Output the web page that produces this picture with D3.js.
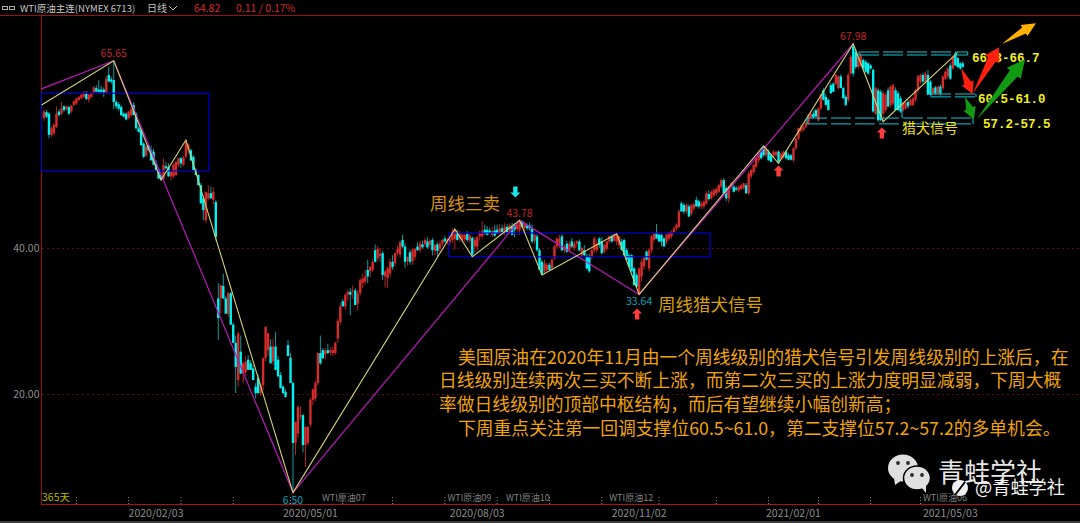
<!DOCTYPE html>
<html>
<head>
<meta charset="utf-8">
<script src="https://cdn.jsdelivr.net/npm/d3@7"></script>
<style>
  html, body { margin: 0; padding: 0; background: #000; overflow: hidden; }
  text { font-family: "Noto Sans CJK SC", "Noto Sans", sans-serif; }
  .mono { font-family: "Liberation Mono", "Noto Sans CJK SC", monospace; }
</style>
</head>
<body>
<svg id="chart" width="1080" height="523"></svg>
<script>
"use strict";

// daily candles
const opens = [
  57.8,58.6,58.4,55.5,55.7,56.6,58.7,58.4,59.4,59.0, 59.3,58.7,59.6,59.8,60.3,60.5,60.7,61.2,60.3,60.7,
  61.3,61.9,61.7,61.7,61.7,61.3,63.7,63.1,63.0,60.0, 59.7,59.3,58.4,58.4,57.8,58.2,59.6,58.4,56.4,56.2,
  54.3,52.7,54.1,53.4,53.2,51.6,50.7,50.0,49.5,51.2, 51.1,49.8,49.8,50.0,51.4,52.3,51.4,52.5,53.4,53.4,
  52.5,50.7,50.0,48.6,46.8,43.8,46.8,47.5,46.6,46.3, 33.1,33.1,34.8,33.1,31.0,33.8,29.5,27.0,21.9,25.8,
  22.8,23.0,24.7,24.2,23.5,21.0,22.2,20.1,21.2,24.9, 26.0,26.5,24.5,26.5,24.7,22.6,21.0,20.3,26.7,25.0,
  21.5,13.3,14.6,16.9,17.1,13.0,13.3,15.8,19.2,19.4, 21.5,25.6,26.0,25.4,26.0,25.7,25.6,25.6,27.6,29.9,
  32.7,32.0,33.6,34.0,34.1,34.2,32.4,33.8,35.2,35.4, 37.0,36.8,37.0,39.7,38.6,38.9,39.3,36.1,35.9,36.5,
  38.1,37.9,39.3,39.1,41.1,40.2,38.2,39.4,38.2,38.8, 40.2,39.7,40.5,40.5,40.9,40.4,41.1,39.6,40.5,39.9,
  40.6,41.3,40.9,40.8,41.1,41.2,42.0,41.3,41.1,41.2, 41.9,41.0,41.4,40.2,40.2,41.6,41.6,42.5,42.5,42.4,
  41.8,42.4,42.5,42.0,42.7,42.2,42.9,42.5,42.9,43.1, 42.6,42.4,43.7,42.7,43.1,43.1,42.7,41.0,41.6,39.7,
  38.1,36.8,37.0,37.7,37.2,38.6,40.2,40.6,41.6,39.7, 40.6,39.7,40.9,40.0,40.6,40.9,39.0,39.7,38.8,38.8,
  38.8,39.7,39.7,41.3,40.9,39.5,39.9,40.9,41.6,41.0, 40.9,40.4,40.9,41.1,39.7,39.0,39.0,37.2,36.3,33.7,
  36.1,37.5,39.5,37.2,39.7,41.1,42.0,41.8,41.8,41.3, 40.9,41.3,41.6,42.2,42.7,42.9,46.1,45.9,45.0,45.7,
  44.7,45.4,46.6,46.4,45.7,45.7,46.1,47.4,46.8,47.2, 47.5,47.7,48.4,49.3,48.2,46.8,48.4,48.4,48.2,47.9,
  48.1,48.2,48.6,47.5,49.8,50.4,51.1,52.0,53.2,53.9, 52.7,53.2,52.7,52.7,52.7,53.2,52.3,52.5,53.2,52.7,
  52.7,52.0,53.65,55.0,56.0,56.2,56.6,57.1,57.9,58.4, 58.9,57.5,59.1,61.6,60.7,60.3,62.3,62.5,62.5,61.9,
  63.5,61.9,60.7,60.3,63.9,67.6,66.9,64.8,65.0,65.75, 65.5,65.3,65.0,64.4,58.4,61.6,61.4,58.4,58.9,61.6,
  59.6,59.8,61.6,61.2,60.5,58.9,59.1,60.0,59.6,59.6, 60.3,61.6,62.8,63.7,62.8,63.7,62.8,61.2,62.0,61.2,
  62.1,61.9,63.2,63.5,65.0,64.6,66.66,66.0,65.3,65.3
];
const highs = [
  58.9,58.9,58.6,56.6,57.0,59.4,59.0,60.0,59.6,59.5, 59.5,59.6,60.2,60.5,60.8,61.1,61.5,61.5,61.1,61.3,
  62.2,62.3,63.0,62.2,62.0,63.6,64.8,63.5,65.65,60.3, 60.0,59.6,58.6,58.6,58.8,59.3,60.0,58.6,56.7,56.4,
  54.5,54.1,54.2,54.0,53.6,52.0,51.0,50.1,52.3,51.8, 51.6,50.6,51.6,51.9,52.3,52.5,52.6,54.8,54.3,53.6,
  52.7,51.0,50.1,48.9,47.2,47.7,48.6,48.4,48.3,46.6, 35.2,35.0,36.5,33.4,34.0,34.0,29.8,28.0,28.5,28.0,
  24.5,25.2,25.3,24.6,24.0,21.5,22.7,21.5,25.0,29.3, 28.4,27.5,27.5,28.5,25.2,23.0,21.2,20.7,27.4,25.6,
  21.7,16.2,18.5,18.3,17.3,15.5,15.6,19.5,20.8,21.8, 25.8,28.0,26.3,26.3,26.9,26.4,26.5,27.2,30.3,32.5,
  33.0,33.8,34.3,34.5,34.9,34.5,34.3,35.9,36.5,37.0, 38.4,37.6,38.5,40.5,40.3,40.0,39.6,37.0,37.4,38.5,
  39.0,39.4,40.3,41.0,41.8,40.6,38.8,39.8,40.0,40.0, 40.8,41.0,41.0,41.4,41.5,41.2,41.4,40.6,40.8,41.0,
  41.3,41.7,41.4,41.6,42.7,42.6,42.5,42.4,42.0,41.9, 42.3,41.9,41.6,41.5,41.6,42.4,43.7,43.2,43.0,42.8,
  42.9,43.1,43.2,43.3,43.2,43.4,43.3,43.4,43.5,43.4, 43.5,43.78,43.78,43.6,43.4,43.5,43.2,42.0,41.9,40.0,
  38.4,38.4,38.0,38.0,38.6,40.4,41.5,41.8,41.9,40.4, 41.0,41.0,41.4,40.9,41.1,41.2,40.2,40.4,39.2,39.2,
  39.9,41.6,41.0,41.5,41.5,40.6,41.0,41.7,41.8,41.9, 41.95,41.7,41.3,41.3,40.0,39.3,39.2,37.4,36.6,37.3,
  38.5,38.9,39.7,40.0,41.8,42.1,43.3,42.0,41.9,41.5, 42.0,42.2,42.4,43.0,43.4,45.3,46.4,46.2,46.1,46.0,
  46.0,46.2,47.0,46.6,46.4,46.5,47.8,47.9,47.9,48.2, 48.3,48.8,49.5,49.6,48.5,48.6,49.0,48.8,48.5,48.6,
  48.8,49.0,48.9,50.5,50.9,51.5,52.4,53.2,53.6,54.0, 54.0,53.5,53.0,53.4,53.3,53.4,53.1,53.3,53.4,53.0,
  52.9,53.8,55.1,56.5,56.9,56.8,57.3,58.3,58.6,58.8, 59.1,59.3,61.1,61.9,61.1,60.5,62.6,62.7,63.9,63.7,
  63.8,62.1,61.0,64.0,66.4,67.98,67.2,66.4,66.7,66.0, 65.8,65.5,65.2,64.6,62.1,61.9,61.7,61.6,61.3,62.0,
  62.3,62.5,62.0,61.5,60.8,60.0,60.0,60.3,60.5,60.7, 61.8,63.7,63.9,64.0,64.2,64.4,63.0,62.1,62.2,62.3,
  62.4,63.7,64.3,64.8,65.3,66.4,66.8,66.2,65.5,65.6
];
const lows = [
  57.4,57.8,55.0,55.2,55.4,56.4,58.0,58.2,58.6,58.8, 58.2,58.5,59.4,59.6,60.1,60.4,60.5,60.3,59.9,60.5,
  61.1,61.4,61.3,61.3,60.7,61.1,62.7,62.5,59.0,59.0, 58.8,58.1,57.9,57.5,57.6,58.0,58.2,56.2,55.8,54.0,
  52.3,52.4,53.3,52.0,51.4,50.6,49.5,49.3,49.3,50.9, 49.8,49.3,49.6,49.8,51.1,51.0,51.2,52.3,53.0,51.9,
  50.7,50.0,48.6,46.1,43.8,43.4,46.5,46.8,46.0,41.0, 27.4,31.0,33.0,31.0,30.5,29.5,27.0,20.1,21.0,22.7,
  21.5,22.5,23.3,23.3,21.9,19.4,20.1,19.7,20.5,24.5, 25.2,24.2,24.0,23.3,22.4,20.8,20.1,19.5,25.2,21.5,
  6.5,11.6,14.0,16.5,12.0,10.0,13.0,15.5,18.5,19.0, 21.2,24.0,24.8,24.8,25.5,25.3,25.2,25.4,27.0,29.5,
  32.0,31.5,32.8,30.8,33.0,32.2,31.5,33.5,34.5,35.0, 35.2,36.0,36.7,38.0,38.2,38.0,35.6,34.6,34.5,36.0,
  37.0,37.5,39.0,38.7,40.0,37.3,37.6,37.7,37.7,38.3, 39.6,39.4,39.9,40.2,39.9,40.0,39.0,39.0,38.8,39.4,
  40.2,40.7,40.5,40.3,40.7,39.8,41.0,40.8,40.8,40.8, 40.8,40.6,38.8,39.4,39.7,41.0,41.3,41.8,41.7,41.9,
  41.5,41.5,42.0,41.8,42.0,41.8,41.8,42.0,41.7,41.5, 42.2,41.8,42.7,42.2,42.4,42.4,40.6,40.6,39.5,37.0,
  36.3,36.4,36.7,36.9,37.0,38.4,40.0,40.0,39.5,39.3, 39.3,39.4,40.0,39.7,40.1,39.5,38.8,38.8,37.0,36.6,
  38.4,39.3,39.4,40.0,39.1,39.2,39.6,40.6,40.7,40.8, 40.4,40.0,39.7,39.0,38.4,37.4,36.8,34.9,34.7,33.64,
  35.4,37.0,38.3,36.8,39.3,40.7,41.2,40.8,40.2,40.2, 40.5,41.0,41.3,41.9,42.4,42.7,45.0,44.6,44.7,44.3,
  44.4,45.1,45.6,45.4,45.3,45.4,45.9,46.5,46.6,47.0, 47.2,47.5,48.2,47.5,46.4,46.2,48.1,47.6,47.8,47.6,
  47.9,48.0,47.4,47.2,49.5,50.1,50.9,51.7,52.1,52.5, 52.4,52.0,51.8,52.5,52.5,51.6,52.0,52.2,52.1,52.0,
  52.0,51.8,53.4,54.8,55.8,56.0,56.4,56.9,57.7,57.8, 58.0,57.3,58.9,60.2,59.5,58.8,61.1,61.4,62.3,61.7,
  61.9,60.5,59.4,60.0,63.7,63.5,64.5,64.5,64.8,64.4, 64.0,63.7,64.4,58.5,58.2,57.3,57.4,57.3,58.6,59.2,
  59.3,59.5,58.8,58.7,58.5,58.6,58.9,59.1,59.4,59.4, 60.0,61.3,62.5,62.5,62.5,61.0,61.0,61.0,61.0,61.0,
  61.1,61.6,63.0,63.2,63.0,64.4,65.0,64.6,64.4,64.6
];
const closes = [
  58.7,58.0,55.5,56.4,56.9,58.4,58.2,59.1,58.9,59.4, 58.4,59.5,60.1,60.5,60.7,61.0,61.2,60.4,61.0,61.2,
  62.0,61.4,61.4,61.4,61.3,63.2,62.8,62.8,60.0,59.4, 59.1,58.2,58.0,57.6,58.7,59.0,58.2,56.4,55.9,54.1,
  52.5,53.9,53.4,52.0,51.4,50.7,49.5,49.3,51.4,50.9, 49.8,50.5,51.4,51.8,52.3,51.6,52.4,54.6,54.1,52.0,
  50.7,50.0,48.6,46.1,45.2,47.7,47.5,46.8,47.7,41.5, 30.4,34.9,33.1,31.0,33.8,29.5,27.0,23.7,28.3,22.8,
  24.2,24.4,23.3,23.3,21.9,20.1,20.1,21.2,24.9,29.2, 28.3,24.2,26.5,23.3,22.4,20.8,20.1,19.6,25.2,21.5,
  13.3,16.2,18.2,17.1,13.0,15.5,15.5,19.2,20.6,21.5, 25.6,24.2,24.9,26.0,25.6,26.0,26.0,27.0,30.0,32.0,
  32.0,33.6,34.0,33.6,34.2,32.2,33.8,35.6,35.8,36.1, 36.1,37.4,38.1,38.1,39.9,39.2,36.3,36.8,37.2,38.1,
  37.4,39.3,39.9,40.8,40.2,38.1,38.8,38.1,39.7,39.9, 39.7,40.6,40.1,41.1,40.1,41.0,39.7,40.4,39.6,40.6,
  41.1,40.9,41.2,41.2,42.2,42.5,41.1,42.0,41.8,41.8, 41.1,41.7,39.1,41.1,41.5,42.0,42.3,42.0,41.8,42.1,
  42.3,41.7,42.0,42.7,42.2,42.9,42.2,43.1,41.8,42.5, 43.2,43.7,42.9,43.4,42.7,42.7,40.9,41.8,39.7,37.0,
  36.4,37.9,37.7,37.0,38.4,40.2,41.3,41.3,39.7,40.2, 39.5,40.6,40.2,40.6,40.9,39.7,40.0,39.0,37.2,36.8,
  39.7,41.3,40.6,40.4,39.3,40.4,40.9,41.6,40.9,41.9, 41.8,41.6,39.7,39.0,38.4,37.4,36.8,34.9,34.7,37.2,
  38.1,38.7,38.4,39.7,41.6,42.0,41.3,40.9,40.9,40.2, 41.8,42.0,42.2,42.7,43.2,45.0,45.0,45.0,45.9,44.3,
  45.9,46.0,45.7,45.7,46.1,46.35,47.5,46.7,47.7,47.9, 48.1,48.6,49.3,47.5,46.8,48.4,48.85,47.7,48.0,48.4,
  48.6,48.85,47.5,50.2,50.7,51.4,52.3,53.0,52.3,52.7, 53.65,52.0,51.8,53.2,53.2,51.8,52.9,53.2,52.3,52.1,
  52.1,53.65,55.0,56.4,56.4,56.6,57.1,58.2,58.4,57.9, 58.0,59.1,61.0,60.3,59.6,58.9,61.2,61.4,63.7,63.5,
  61.9,60.5,59.6,63.7,66.2,63.9,64.8,66.2,66.4,64.6, 64.15,63.9,64.6,58.7,61.9,57.5,57.5,61.2,61.0,59.4,
  62.1,62.3,58.9,58.9,58.7,59.8,59.9,59.4,60.3,60.5, 61.6,63.5,63.7,62.8,63.9,61.0,61.0,61.9,61.2,62.1,
  61.2,63.5,64.15,64.6,63.2,66.2,65.0,64.8,64.6,64.82
];

// turning points of the two zigzag lines
const dailyIdx = [-1, 28, 47, 57, 100, 165, 172, 191, 200, 230, 239, 289, 295, 325, 337, 367];
const dailyPrice = [59.6, 65.65, 49.3, 54.8, 6.5, 42.6, 38.8, 43.78, 36.3, 41.95, 33.64, 54.0, 51.6, 67.98, 57.3, 66.8];
const weeklyIdx = [-1, 28, 100, 191, 239, 325];
const weeklyPrice = [61.8, 65.65, 6.5, 43.78, 33.64, 67.98];

// blue pivot boxes: start, end, top, bottom
const pivotStart = [-1, 162.5];
const pivotEnd = [66.3, 267.5];
const pivotTop = [61.2, 42.05];
const pivotBottom = [50.55, 38.8];

// cyan support zones
const zoneStart = [327.3, 356.2, 306.4];
const zoneEnd = [371, 374.3, 373.1];
const zoneTop = [66.85, 61.1, 57.8];
const zoneBottom = [66.44, 60.7, 57];

// short risers joining the zones to the candles
const riserIdx = [344.6, 360];
const riserTop = [59, 62.2];
const riserBottom = [57.8, 60.9];

// high/low tags
const tagIdx = [28, 100, 191, 239, 325];
const tagValue = [65.65, 6.5, 43.78, 33.64, 67.98];
const tagLabel = ["65.65", "6.50", "43.78", "33.64", "67.98"];
const tagBelow = [false, true, false, true, false];

// small signal arrows
const upIdx = [238.2, 295, 336.5];
const upPrice = [30.96, 50.55, 55.75];
const downIdx = [189.3];
const downPrice = [47.67];

// big forecast arrows: from idx/price, to idx/price
const forecastColor = ["#ffb000", "#ff2010", "#ff2010", "#129a12", "#129a12"];
const forecastFromIdx = [384.7, 368.3, 373, 369.9, 374.6];
const forecastFromPrice = [67.95, 64.66, 61.16, 60.7, 57.6];
const forecastToIdx = [398.4, 372.9, 383.5, 373.5, 394];
const forecastToPrice = [70.8, 61.1, 67.5, 57.6, 65.85];

// axis
const priceTicks = [40, 20];
const dateIdx = [45, 107, 174, 239, 301, 364];
const dateLabels = ["2020/02/03", "2020/05/01", "2020/08/03", "2020/11/02", "2021/02/01", "2021/05/03"];
const monthIdx = [13, 34, 55, 76, 99, 120, 140, 161, 182, 203, 224, 247, 270, 291, 311, 332, 352];
const contractIdx = [111.6, 162, 185.5, 227, 353];
const contractLabels = ["WTI原油07", "WTI原油09", "WTI原油10", "WTI原油12", "WTI原油06"];

const paragraph = [
  "美国原油在2020年11月由一个周线级别的猎犬信号引发周线级别的上涨后，在",
  "日线级别连续两次三买不断上涨，而第二次三买的上涨力度明显减弱，下周大概",
  "率做日线级别的顶部中枢结构，而后有望继续小幅创新高；",
  "下周重点关注第一回调支撑位60.5~61.0，第二支撑位57.2~57.2的多单机会。"
];

const width = 1080, height = 523;
const axisRed = "#9a0f0f";

const svg = d3.select("#chart");

const x = d3.scaleLinear().domain([0, 369]).range([44, 962.8]);
const y = d3.scaleLinear().domain([20, 40]).range([394, 248]);

svg.append("rect").attr("width", width).attr("height", height).attr("fill", "#000");
svg.append("rect").attr("y", 521).attr("width", width).attr("height", 2).attr("fill", "#3a3a3a");

svg.append("defs").append("clipPath").attr("id", "plot")
  .append("rect").attr("x", 41).attr("y", 15).attr("width", width - 41).attr("height", 489);

// frame
const frame = svg.append("g").attr("stroke", axisRed).attr("stroke-width", 1).attr("shape-rendering", "crispEdges");
frame.append("line").attr("x1", 0).attr("x2", width).attr("y1", 15.5).attr("y2", 15.5);
frame.append("line").attr("x1", 41.5).attr("x2", 41.5).attr("y1", 15).attr("y2", 504);
frame.append("line").attr("x1", 41).attr("x2", width).attr("y1", 504.5).attr("y2", 504.5).attr("stroke", "#b01010");

// price gridlines and labels
svg.append("g").selectAll("line").data(priceTicks).enter().append("line")
  .attr("x1", 42).attr("x2", width)
  .attr("y1", function (d) { return y(d) + 0.5; })
  .attr("y2", function (d) { return y(d) + 0.5; })
  .attr("stroke", "#660b0b").attr("stroke-dasharray", "2,3");

svg.append("g").selectAll("text").data(priceTicks).enter().append("text")
  .attr("x", 39.5).attr("y", function (d) { return y(d) + 4; })
  .attr("text-anchor", "end").attr("font-size", 10.5).attr("fill", "#8f8f8f")
  .text(function (d) { return d3.format(".2f")(d); });

// candles
const candles = svg.append("g").attr("clip-path", "url(#plot)")
  .selectAll("g").data(d3.range(closes.length)).enter().append("g");

candles.append("line")
  .attr("x1", function (i) { return x(i); })
  .attr("x2", function (i) { return x(i); })
  .attr("y1", function (i) { return y(highs[i]); })
  .attr("y2", function (i) { return y(lows[i]); })
  .attr("stroke", function (i) { return closes[i] >= opens[i] ? "#b52222" : "#0b9c9c"; })
  .attr("stroke-width", 1);

candles.append("rect")
  .attr("x", function (i) { return x(i) - 1.2; })
  .attr("width", 2.4)
  .attr("y", function (i) { return y(Math.max(opens[i], closes[i])); })
  .attr("height", function (i) { return Math.max(1, Math.abs(y(opens[i]) - y(closes[i]))); })
  .attr("fill", function (i) { return closes[i] >= opens[i] ? "#d42c2c" : "#00f2f2"; });

// pivot boxes
svg.append("g").attr("clip-path", "url(#plot)").selectAll("rect").data(d3.range(pivotStart.length)).enter().append("rect")
  .attr("x", function (i) { return x(pivotStart[i]); })
  .attr("width", function (i) { return x(pivotEnd[i]) - x(pivotStart[i]); })
  .attr("y", function (i) { return y(pivotTop[i]); })
  .attr("height", function (i) { return y(pivotBottom[i]) - y(pivotTop[i]); })
  .attr("fill", "none").attr("stroke", "#0000d0").attr("stroke-width", 1.2);

// zigzags
const zigzag = d3.line()
  .x(function (d) { return x(d[0]); })
  .y(function (d) { return y(d[1]); });

const lines = svg.append("g").attr("clip-path", "url(#plot)").attr("fill", "none");
lines.append("path").attr("d", zigzag(d3.zip(weeklyIdx, weeklyPrice)))
  .attr("stroke", "#bd18bd").attr("stroke-width", 1.2);
lines.append("path").attr("d", zigzag(d3.zip(dailyIdx, dailyPrice)))
  .attr("stroke", "#d2d274").attr("stroke-width", 1.1);

// support zones
svg.append("g").selectAll("g").data(d3.range(zoneStart.length)).enter().append("g")
  .each(function (i) {
    const g = d3.select(this).attr("stroke", "#10c8d8").attr("stroke-width", 1).attr("fill", "none");
    g.append("line").attr("x1", x(zoneStart[i])).attr("x2", x(zoneEnd[i]))
      .attr("y1", y(zoneTop[i])).attr("y2", y(zoneTop[i])).attr("stroke-dasharray", "20,4");
    g.append("line").attr("x1", x(zoneStart[i])).attr("x2", x(zoneEnd[i]))
      .attr("y1", y(zoneBottom[i])).attr("y2", y(zoneBottom[i])).attr("stroke-dasharray", "20,4");
    g.append("line").attr("x1", x(zoneStart[i])).attr("x2", x(zoneStart[i]))
      .attr("y1", y(zoneTop[i])).attr("y2", y(zoneBottom[i]));
    g.append("line").attr("x1", x(zoneEnd[i])).attr("x2", x(zoneEnd[i]))
      .attr("y1", y(zoneTop[i])).attr("y2", y(zoneBottom[i]));
  });
svg.append("g").selectAll("line").data(d3.range(riserIdx.length)).enter().append("line")
  .attr("x1", function (i) { return x(riserIdx[i]); })
  .attr("x2", function (i) { return x(riserIdx[i]); })
  .attr("y1", function (i) { return y(riserTop[i]); })
  .attr("y2", function (i) { return y(riserBottom[i]); })
  .attr("stroke", "#10c8d8");

// tags
svg.append("g").selectAll("text").data(d3.range(tagIdx.length)).enter().append("text")
  .attr("x", function (i) { return x(tagIdx[i]); })
  .attr("y", function (i) { return y(tagValue[i]) + (tagBelow[i] ? 11 : -3.5); })
  .attr("text-anchor", "middle").attr("font-size", 10.5)
  .attr("fill", function (i) { return tagBelow[i] ? "#05a5bd" : "#c42424"; })
  .text(function (i) { return tagLabel[i]; });

// small arrows
function blockArrow(cx, cy, dir) {
  const p = d3.path();
  p.moveTo(cx, cy - 5.5 * dir);
  p.lineTo(cx + 5, cy - 0.5 * dir);
  p.lineTo(cx + 2.2, cy - 0.5 * dir);
  p.lineTo(cx + 2.2, cy + 5.5 * dir);
  p.lineTo(cx - 2.2, cy + 5.5 * dir);
  p.lineTo(cx - 2.2, cy - 0.5 * dir);
  p.lineTo(cx - 5, cy - 0.5 * dir);
  p.closePath();
  return p.toString();
}
svg.append("g").selectAll("path").data(d3.zip(upIdx, upPrice)).enter().append("path")
  .attr("d", function (d) { return blockArrow(x(d[0]), y(d[1]), 1); }).attr("fill", "#ff3c3c");
svg.append("g").selectAll("path").data(d3.zip(downIdx, downPrice)).enter().append("path")
  .attr("d", function (d) { return blockArrow(x(d[0]), y(d[1]), -1); }).attr("fill", "#18e8e8");

// range labels at the right
const rangeLabels = svg.append("g").attr("font-size", 12.5).attr("font-weight", "bold").attr("fill", "#f2f020");
rangeLabels.append("text").attr("class", "mono").attr("x", 972).attr("y", 62).text("66.3-66.7");
rangeLabels.append("text").attr("class", "mono").attr("x", 978).attr("y", 103).text("60.5-61.0");
rangeLabels.append("text").attr("class", "mono").attr("x", 983).attr("y", 128).text("57.2-57.5");
svg.append("text").attr("x", 902).attr("y", 133).attr("font-size", 14).attr("fill", "#f2e020").text("猎犬信号");

// big arrows, tapered from a point at the tail
function taperArrow(x0, y0, x1, y1, headLen, headHalf) {
  const dx = x1 - x0, dy = y1 - y0;
  const len = Math.sqrt(dx * dx + dy * dy);
  const ux = dx / len, uy = dy / len;
  const nx = -uy, ny = ux;
  const bx = x1 - ux * headLen, by = y1 - uy * headLen;
  const shaft = headHalf * 0.55;
  const p = d3.path();
  p.moveTo(x0, y0);
  p.lineTo(bx + nx * shaft, by + ny * shaft);
  p.lineTo(bx + nx * headHalf, by + ny * headHalf);
  p.lineTo(x1, y1);
  p.lineTo(bx - nx * headHalf, by - ny * headHalf);
  p.lineTo(bx - nx * shaft, by - ny * shaft);
  p.closePath();
  return p.toString();
}
svg.append("g").selectAll("path").data(d3.range(forecastColor.length)).enter().append("path")
  .attr("d", function (i) {
    const big = i === 4 ? [18, 9] : i === 2 ? [14, 8] : i === 0 ? [14, 6.5] : [12, 6.5];
    return taperArrow(x(forecastFromIdx[i]), y(forecastFromPrice[i]), x(forecastToIdx[i]), y(forecastToPrice[i]), big[0], big[1]);
  })
  .attr("fill", function (i) { return forecastColor[i]; });

// chart annotations
svg.append("text").attr("x", 430).attr("y", 210).attr("font-size", 17.5).attr("fill", "#d9920c").text("周线三卖");
svg.append("text").attr("x", 658).attr("y", 311).attr("font-size", 17.5).attr("fill", "#d9a00c").text("周线猎犬信号");

svg.append("g").selectAll("text").data(paragraph).enter().append("text")
  .attr("x", function (d, i) { return i === 0 || i === 3 ? 458 : 439; })
  .attr("y", function (d, i) { return 363.5 + i * 23.7; })
  .attr("font-size", 17.8).attr("fill", "#f0a40a")
  .text(function (d) { return d; });

// time axis
svg.append("g").selectAll("line").data(monthIdx).enter().append("line")
  .attr("x1", function (d) { return x(d); }).attr("x2", function (d) { return x(d); })
  .attr("y1", 497).attr("y2", 504)
  .attr("stroke", "#8a8a8a").attr("stroke-dasharray", "1,2");

svg.append("g").selectAll("text").data(d3.zip(dateIdx, dateLabels)).enter().append("text")
  .attr("x", function (d) { return x(d[0]); }).attr("y", 517)
  .attr("text-anchor", "middle").attr("font-size", 10.5).attr("fill", "#8c8c8c")
  .text(function (d) { return d[1]; });

svg.append("g").selectAll("text").data(d3.zip(contractIdx, contractLabels)).enter().append("text")
  .attr("x", function (d) { return x(d[0]); }).attr("y", 501)
  .attr("font-size", 9).attr("fill", "#808080")
  .text(function (d) { return d[1]; });

svg.append("text").attr("x", 42).attr("y", 501).attr("font-size", 10.5).attr("fill", "#b8b800").text("365天");

// title bar
const bar = svg.append("g");
bar.append("rect").attr("x", 2.5).attr("y", 6.5).attr("width", 5).attr("height", 3).attr("fill", "none").attr("stroke", "#b0b0b0");
bar.append("rect").attr("x", 9.5).attr("y", 6.5).attr("width", 5).attr("height", 3).attr("fill", "none").attr("stroke", "#b0b0b0");
bar.append("text").attr("x", 20).attr("y", 12).attr("font-size", 9.5).attr("fill", "#c8c8c8").text("WTI原油主连(NYMEX 6713)");
bar.append("text").attr("x", 147).attr("y", 12).attr("font-size", 10).attr("fill", "#c0c0c0").text("日线");
bar.append("path").attr("d", "M169,6 L173,10 L177,6").attr("fill", "none").attr("stroke", "#c0c0c0");
bar.append("text").attr("x", 194).attr("y", 12).attr("font-size", 10.5).attr("fill", "#d22c2c").text("64.82");
bar.append("text").attr("x", 236).attr("y", 12).attr("font-size", 10.5).attr("fill", "#d22c2c").text("0.11 / 0.17%");

// watermark
const mark = svg.append("g");
mark.append("ellipse").attr("cx", 903).attr("cy", 468).attr("rx", 15).attr("ry", 13.5).attr("fill", "#e0e0e0");
mark.append("path").attr("d", "M894,478 L895,485 L902,480 Z").attr("fill", "#e0e0e0");
mark.append("ellipse").attr("cx", 917).attr("cy", 478).attr("rx", 13.5).attr("ry", 12).attr("fill", "#e0e0e0").attr("stroke", "#000").attr("stroke-width", 1.5);
mark.append("path").attr("d", "M922,488 L926,493 L926,485 Z").attr("fill", "#e0e0e0");
[[898, 463], [908, 463], [912, 475], [922, 475]].forEach(function (d) {
  mark.append("circle").attr("cx", d[0]).attr("cy", d[1]).attr("r", 1.9).attr("fill", "#2a2a2a");
});
mark.append("text").attr("x", 938).attr("y", 482).attr("font-size", 26).attr("fill", "#e6e6e6").text("青蛙学社");
mark.append("circle").attr("cx", 960).attr("cy", 488).attr("r", 8).attr("fill", "#f0f0f0");
mark.append("path").attr("d", "M955,495 L965,482").attr("stroke", "#000").attr("stroke-width", 2);
mark.append("text").attr("x", 975).attr("y", 494).attr("font-size", 18.2).attr("fill", "#f0f0f0").text("@青蛙学社");
</script>
</body>
</html>
